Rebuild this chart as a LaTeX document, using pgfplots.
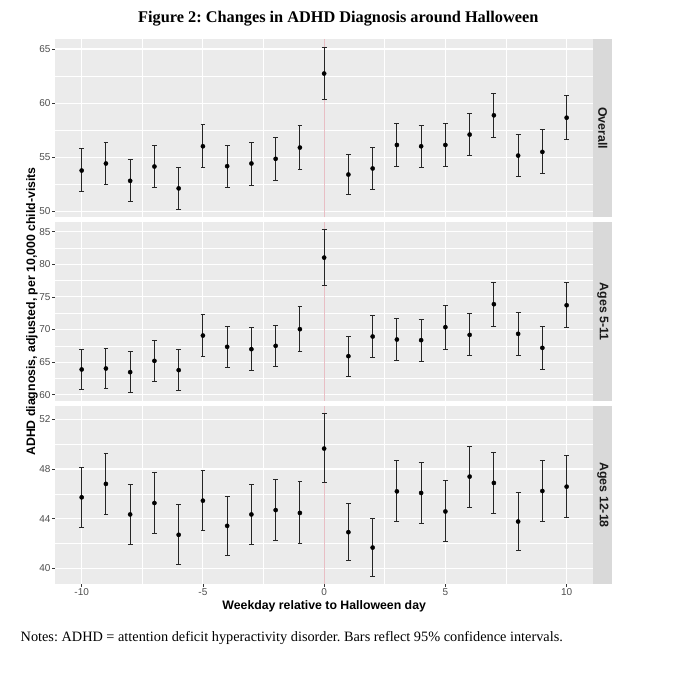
\documentclass[border=0pt]{standalone}
\usepackage{fontspec}
\setmainfont{Liberation Serif}
\setsansfont{Liberation Sans}
\usepackage{pgfplots}
\usepackage{pgfplotstable}
\pgfplotsset{compat=1.18}
\frenchspacing
\definecolor{ggbg}{HTML}{EBEBEB}
\definecolor{ggstrip}{HTML}{D9D9D9}
\definecolor{ggtick}{HTML}{4D4D4D}
\definecolor{ggtxt}{HTML}{1A1A1A}
\definecolor{zeroline}{RGB}{232,190,196}

\pgfplotstableread{
x y hi lo
-10 53.77 55.77 51.84
-9 54.42 56.32 52.48
-8 52.82 54.79 50.89
-7 54.14 56.07 52.21
-6 52.12 54.08 50.18
-5 56.01 57.98 54.02
-4 54.17 56.07 52.21
-3 54.42 56.35 52.42
-2 54.85 56.81 52.85
-1 55.89 57.94 53.87
0 62.73 65.15 60.34
1 53.40 55.25 51.53
2 53.96 55.92 51.99
3 56.13 58.10 54.17
4 56.01 57.94 54.05
5 56.13 58.13 54.17
6 57.09 59.08 55.12
7 58.87 60.89 56.84
8 55.15 57.12 53.22
9 55.49 57.52 53.53
10 58.65 60.71 56.60
}\overall

\pgfplotstableread{
x y hi lo
-10 63.88 66.99 60.82
-9 64.03 67.14 60.97
-8 63.47 66.58 60.36
-7 65.20 68.32 62.09
-6 63.78 66.94 60.66
-5 69.08 72.35 65.92
-4 67.35 70.51 64.13
-3 66.99 70.26 63.78
-2 67.50 70.66 64.34
-1 70.05 73.47 66.68
0 81.02 85.26 76.79
1 65.92 68.88 62.86
2 68.93 72.09 65.66
3 68.47 71.68 65.26
4 68.37 71.53 65.10
5 70.36 73.62 67.00
6 69.18 72.40 65.97
7 73.88 77.19 70.46
8 69.34 72.55 66.07
9 67.19 70.41 63.93
10 73.72 77.14 70.26
}\agesA

\pgfplotstableread{
x y hi lo
-10 45.72 48.14 43.29
-9 46.80 49.28 44.34
-8 44.34 46.77 41.91
-7 45.26 47.69 42.83
-6 42.70 45.12 40.30
-5 45.45 47.90 43.02
-4 43.42 45.80 41.02
-3 44.34 46.77 41.91
-2 44.69 47.12 42.26
-1 44.46 46.96 41.97
0 49.65 52.49 46.88
1 42.91 45.23 40.59
2 41.67 44.02 39.32
3 46.20 48.66 43.77
4 46.07 48.52 43.61
5 44.58 47.04 42.13
6 47.39 49.85 44.93
7 46.88 49.36 44.42
8 43.77 46.12 41.40
9 46.23 48.68 43.77
10 46.58 49.06 44.10
}\agesB

\pgfplotsset{
  ggpanel/.style={
    scale only axis,
    width=538.3pt, height=178.3pt,
    anchor=south west,
    xmin=-11.1, xmax=11.1,
    axis background/.style={fill=ggbg},
    axis line style={draw=none},
    grid=both,
    major grid style={white, line width=1.1pt},
    minor grid style={white, line width=0.55pt},
    xtick={-10,-5,0,5,10},
    minor xtick={-7.5,-2.5,2.5,7.5},
    tick align=outside,
    major tick length=2.75pt,
    minor tick length=0pt,
    tick style={color=ggtick!70!black, line width=0.6pt},
    ytick pos=left, xtick pos=bottom,
    /pgf/number format/assume math mode=true,
    ticklabel style={font=\sffamily\fontsize{10}{12}\selectfont, text=ggtick, inner sep=1.5pt},
    clip=true,
  },
  ggtop/.style={xticklabels={}, xtick style={draw=none}},
}

\newcommand{\panelplots}[3]{%
  \addplot[zeroline, line width=0.6pt, forget plot] coordinates {(0,#2) (0,#3)};
  \addplot[only marks, mark=*, mark size=2.1pt, black,
    error bars/.cd, y dir=both, y explicit,
    error bar style={line width=1pt, black!85},
    error mark options={rotate=90, line width=1pt, black!85, mark size=2.4pt}]
    table[x=x, y=y, y error plus expr=\thisrow{hi}-\thisrow{y}, y error minus expr=\thisrow{y}-\thisrow{lo}] {#1};
}

\begin{document}
\begin{tikzpicture}
\path[use as bounding box] (0pt,0pt) rectangle (679pt,680pt);

% Panel 1: Overall
\begin{axis}[ggpanel, ggtop, at={(55pt,462.7pt)},
  ymin=49.45, ymax=65.92,
  ytick={50,55,60,65}, minor ytick={52.5,57.5,62.5}]
\panelplots{\overall}{49.45}{65.92}
\end{axis}

% Panel 2: Ages 5-11
\begin{axis}[ggpanel, ggtop, at={(55pt,279.2pt)},
  ymin=59.08, ymax=86.4,
  ytick={60,65,70,75,80,85}, minor ytick={62.5,67.5,72.5,77.5,82.5}]
\panelplots{\agesA}{59.08}{86.4}
\end{axis}

% Panel 3: Ages 12-18
\begin{axis}[ggpanel, at={(55pt,95.7pt)},
  ymin=38.71, ymax=53.08,
  ytick={40,44,48,52}, minor ytick={42,46,50},
  xticklabels={-10,-5,0,5,10}]
\panelplots{\agesB}{38.71}{53.08}
\end{axis}

% strips
\fill[ggstrip] (593.3pt,462.7pt) rectangle (612.3pt,641.0pt);
\fill[ggstrip] (593.3pt,279.2pt) rectangle (612.3pt,457.5pt);
\fill[ggstrip] (593.3pt,95.7pt) rectangle (612.3pt,274.0pt);
\node[rotate=-90, text=ggtxt, font=\sffamily\bfseries\fontsize{12.4}{14}\selectfont] at (602.8pt,551.85pt) {Overall};
\node[rotate=-90, text=ggtxt, font=\sffamily\bfseries\fontsize{12.4}{14}\selectfont] at (602.8pt,368.35pt) {Ages 5-11};
\node[rotate=-90, text=ggtxt, font=\sffamily\bfseries\fontsize{12.4}{14}\selectfont] at (602.8pt,184.85pt) {Ages 12-18};

% axis labels
\node[rotate=90, font=\sffamily\bfseries\fontsize{12.3}{14}\selectfont] at (32pt,368.5pt) {ADHD diagnosis, adjusted, per 10,000 child-visits};
\node[font=\sffamily\bfseries\fontsize{12.3}{14}\selectfont] at (324.2pt,74pt) {Weekday relative to Halloween day};

% title and notes
\node[anchor=base, font=\bfseries\fontsize{16.3}{19}\selectfont] at (338.3pt,657pt) {Figure 2: Changes in ADHD Diagnosis around Halloween};
\node[anchor=base west, inner sep=0pt, font=\fontsize{14.3}{17}\selectfont] at (20.5pt,38.5pt) {Notes: ADHD = attention deficit hyperactivity disorder. Bars reflect 95\% confidence intervals.};
\end{tikzpicture}
\end{document}
